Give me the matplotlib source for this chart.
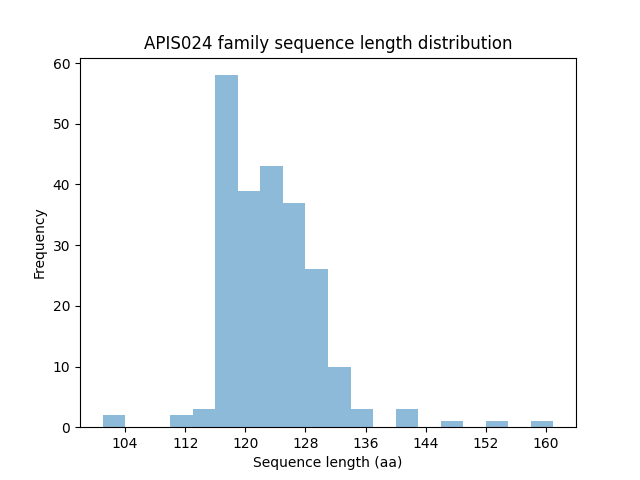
import matplotlib
matplotlib.use("Agg")
import matplotlib.pyplot as plt
import numpy as np

# histogram bins (sequence length, aa) and counts
bin_start = 101
bin_width = 3
counts = [2, 0, 0, 2, 3, 58, 39, 43, 37, 26, 10, 3, 0, 3, 0, 1, 0, 1, 0, 1]

edges = bin_start + bin_width * np.arange(len(counts) + 1)
centers = (edges[:-1] + edges[1:]) / 2

fig = plt.figure(figsize=(6.4, 4.8), dpi=100)
plt.hist(centers, bins=edges, weights=counts, alpha=0.5)
plt.title('APIS024 family sequence length distribution')
plt.xlabel('Sequence length (aa)')
plt.ylabel('Frequency')
plt.xticks(np.arange(104, 161, 8))
plt.savefig('out.png')
